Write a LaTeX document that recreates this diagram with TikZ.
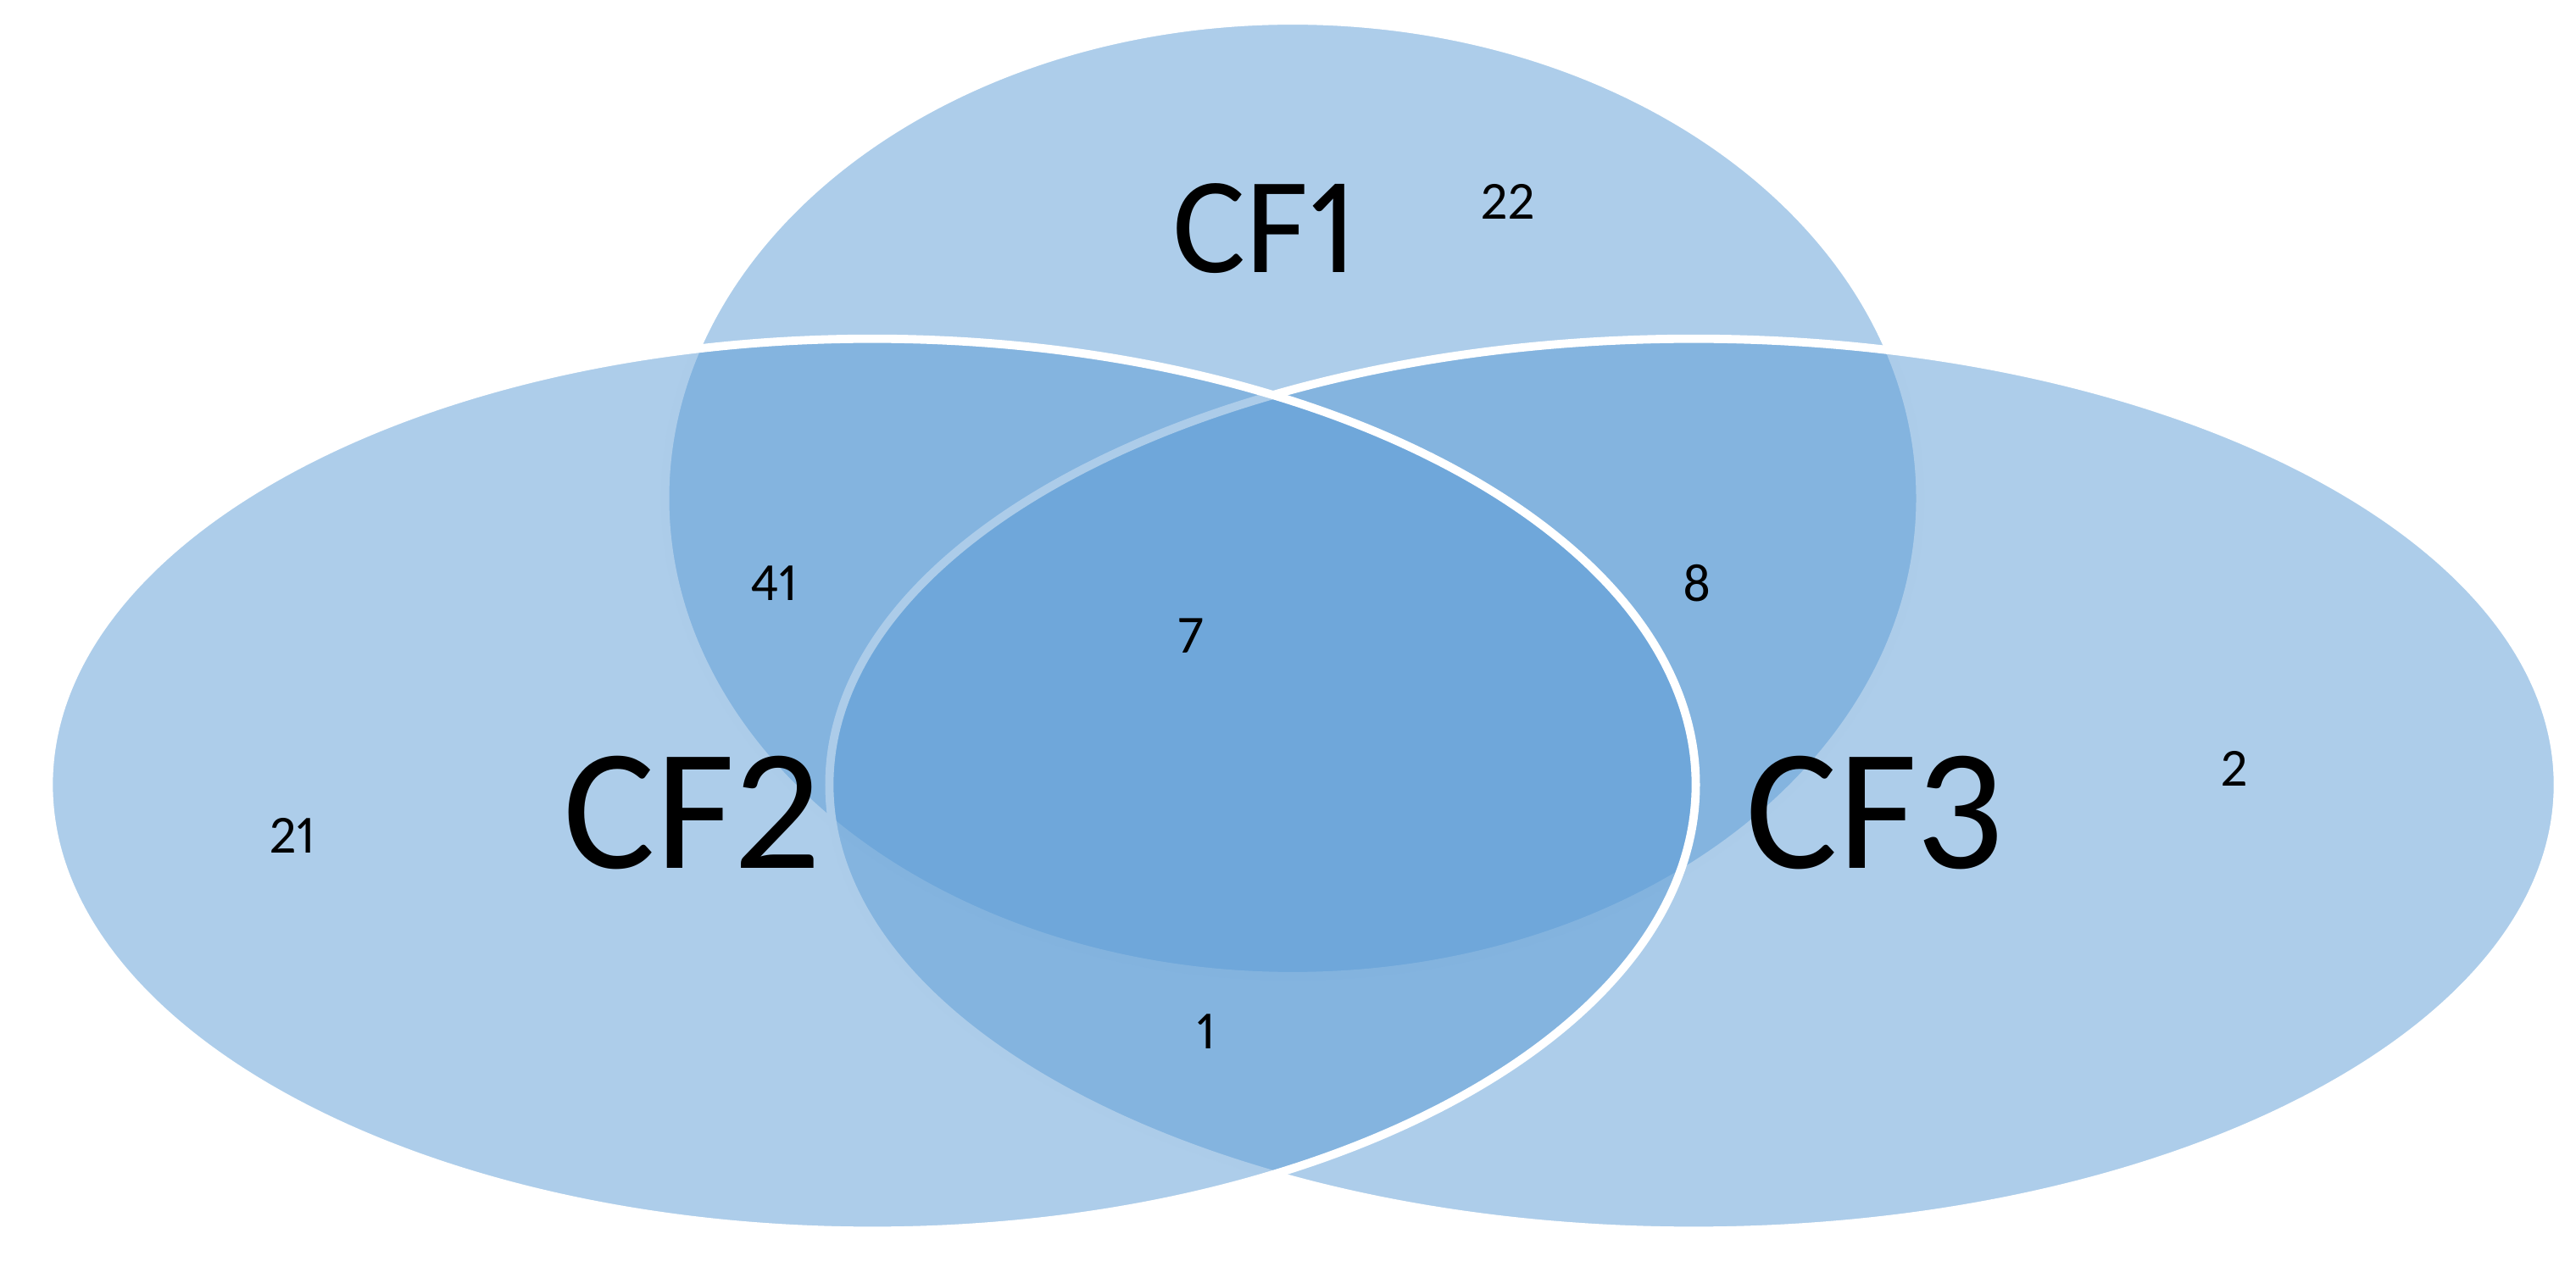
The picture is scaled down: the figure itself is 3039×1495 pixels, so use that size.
\documentclass[tikz,border=0pt]{standalone}
\usepackage{fontspec}
\setmainfont{Carlito}[Numbers={Lining,Proportional}]
\usepackage{tikz}
\usetikzlibrary{shapes.geometric}
\definecolor{vennblue}{RGB}{91,155,213}

\begin{document}
\begin{tikzpicture}[x=0.01cm, y=-0.01cm,
    venn/.style={ellipse, draw=white, line width=2.8pt, fill=vennblue,
                 fill opacity=0.5, draw opacity=1, inner sep=0pt},
    setlabel/.style={font=\fontsize{58}{60}\selectfont, inner sep=0pt},
    count/.style={font=\fontsize{18}{20}\selectfont, inner sep=0pt}]
\useasboundingbox (0,0) rectangle (3039,1495);
% the three sets, drawn back to front
\node[venn, minimum width=14.80cm, minimum height=11.27cm] (cf1) at (1525,588) {};
\node[venn, minimum width=20.38cm, minimum height=10.52cm] (cf3) at (1998,926) {};
\node[venn, minimum width=19.42cm, minimum height=10.52cm] (cf2) at (1029,926) {};
% set names
\node[setlabel, font=\fontsize{46}{48}\selectfont] (l1) at (1492,270) {CF1};
\node[setlabel] (l2) at (816,959) {CF2};
\node[setlabel] (l3) at (2211,959) {CF3};
% counts per region
\node[count] (n1)   at (1779,238)  {22};
\node[count] (n2)   at (345,986)   {21};
\node[count] (n3)   at (2636,907)  {2};
\node[count] (n12)  at (913,688)   {41};
\node[count] (n13)  at (2002,688)  {8};
\node[count] (n23)  at (1423,1217) {1};
\node[count] (n123) at (1405,750)  {7};
\end{tikzpicture}
\end{document}
